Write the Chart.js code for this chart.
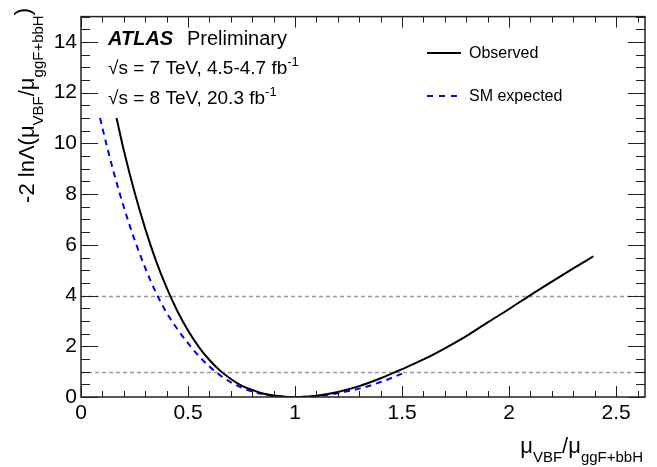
<!DOCTYPE html>
<html>
<head>
<meta charset="utf-8">
<script src="https://cdn.jsdelivr.net/npm/chart.js@4.4.1/dist/chart.umd.min.js"></script>
<style>
  body { margin: 0; background: #fff; }
  canvas { display: block; }
</style>
</head>
<body>
<canvas id="nll" width="657" height="467"></canvas>
<script>
// Values
const obsX = [0.166, 0.2, 0.25, 0.3, 0.35, 0.4, 0.45, 0.5, 0.55, 0.6, 0.65, 0.7, 0.75, 0.8, 0.85, 0.9, 0.95, 1.0,
              1.05, 1.1, 1.2, 1.3, 1.4, 1.5, 1.6, 1.7, 1.8, 1.9, 2.0, 2.1, 2.2, 2.3, 2.394];
const obsY = [11.0, 9.73, 8.08, 6.64, 5.38, 4.31, 3.39, 2.62, 1.98, 1.46, 1.04, 0.71, 0.45, 0.28, 0.14, 0.056, 0.013, 0.0,
              0.013, 0.05, 0.2, 0.43, 0.74, 1.1, 1.48, 1.92, 2.4, 2.94, 3.47, 4.02, 4.55, 5.07, 5.55];

const expX = [0.089, 0.1, 0.15, 0.2, 0.25, 0.3, 0.35, 0.4, 0.45, 0.5, 0.55, 0.6, 0.65, 0.7, 0.75, 0.8, 0.85, 0.9, 0.95, 1.0,
              1.05, 1.1, 1.2, 1.3, 1.4, 1.5];
const expY = [11.0, 10.61, 8.95, 7.49, 6.21, 5.09, 4.12, 3.32, 2.68, 2.12, 1.62, 1.2, 0.86, 0.58, 0.37, 0.22, 0.11, 0.045, 0.01, 0.0,
              0.01, 0.037, 0.15, 0.33, 0.59, 0.92];

const seriesNames = ['Observed', 'SM expected'];
const xTickValues = [0, 0.5, 1, 1.5, 2, 2.5];
const yTickValues = [0, 2, 4, 6, 8, 10, 12, 14];
const refLevels = [1, 4];

const FONT = '"Liberation Sans", Arial, Helvetica, sans-serif';
Chart.defaults.font.family = FONT;
Chart.defaults.color = '#000';

const toPoints = (xs, ys) => xs.map((x, i) => ({ x: x, y: ys[i] }));

// draw a run of [text, size, dy] pieces left to right, returns end x
function drawPieces(ctx, pieces, x, y) {
    pieces.forEach(p => {
        ctx.font = (p[3] || '') + p[1] + 'px ' + FONT;
        ctx.fillText(p[0], x, y + p[2]);
        x += ctx.measureText(p[0]).width;
    });
    return x;
}
function piecesWidth(ctx, pieces) {
    let w = 0;
    pieces.forEach(p => {
        ctx.font = (p[3] || '') + p[1] + 'px ' + FONT;
        w += ctx.measureText(p[0]).width;
    });
    return w;
}

const atlasDecor = {
    id: 'atlasDecor',
    beforeDatasetsDraw(chart) {
        const { ctx, chartArea: a, scales } = chart;
        ctx.save();
        ctx.strokeStyle = '#9a9a9a';
        ctx.lineWidth = 1.5;
        ctx.setLineDash([4, 3]);
        refLevels.forEach(v => {
            const py = Math.round(scales.y.getPixelForValue(v)) + 0.5;
            ctx.beginPath();
            ctx.moveTo(a.left, py);
            ctx.lineTo(a.right, py);
            ctx.stroke();
        });
        ctx.restore();
    },
    afterDraw(chart) {
        const { ctx, chartArea: a, scales } = chart;
        const sx = scales.x, sy = scales.y;
        ctx.save();

        // frame
        ctx.strokeStyle = '#222';
        ctx.lineWidth = 1.5;
        ctx.strokeRect(a.left, a.top, a.right - a.left, a.bottom - a.top);

        // ticks on all four sides
        ctx.lineWidth = 1;
        ctx.beginPath();
        for (let i = 0; i <= 26; i++) {
            const v = i / 10;
            const px = Math.round(sx.getPixelForValue(v)) + 0.5;
            const len = (i % 5 === 0) ? 11 : 6;
            ctx.moveTo(px, a.bottom); ctx.lineTo(px, a.bottom - len);
            ctx.moveTo(px, a.top); ctx.lineTo(px, a.top + len);
        }
        for (let i = 0; i <= 30; i++) {
            const v = i / 2;
            const py = Math.round(sy.getPixelForValue(v)) + 0.5;
            const len = (i % 4 === 0) ? 17 : 9;
            ctx.moveTo(a.left, py); ctx.lineTo(a.left + len, py);
            ctx.moveTo(a.right, py); ctx.lineTo(a.right - len, py);
        }
        ctx.stroke();

        // ATLAS label
        ctx.fillStyle = '#000';
        ctx.textBaseline = 'alphabetic';
        ctx.textAlign = 'left';
        ctx.font = 'italic bold 20px ' + FONT;
        ctx.fillText('ATLAS', 108, 45);
        ctx.font = '20px ' + FONT;
        ctx.fillText('Preliminary', 187, 45);

        drawPieces(ctx, [['\u221As = 7 TeV, 4.5-4.7 fb', 19, 0], ['-1', 13, -8]], 108, 74);
        drawPieces(ctx, [['\u221As = 8 TeV, 20.3 fb', 19, 0], ['-1', 13, -8]], 108, 104);

        // legend
        ctx.lineWidth = 2;
        ctx.strokeStyle = '#000';
        ctx.setLineDash([]);
        ctx.beginPath(); ctx.moveTo(427, 53); ctx.lineTo(461, 53); ctx.stroke();
        ctx.strokeStyle = '#0000ff';
        ctx.setLineDash([6, 6]);
        ctx.beginPath(); ctx.moveTo(427, 96); ctx.lineTo(461, 96); ctx.stroke();
        ctx.setLineDash([]);
        ctx.font = '16px ' + FONT;
        ctx.fillText(seriesNames[0], 469, 58);
        ctx.fillText(seriesNames[1], 469, 101);

        // x title, right aligned to frame
        const xt = [['\u03BC', 22, 0], ['VBF', 15, 9], ['/\u03BC', 22, 0], ['ggF+bbH', 15, 9]];
        drawPieces(ctx, xt, a.right - 2 - piecesWidth(ctx, xt), 453);

        // y title, rotated, right aligned to frame top
        const yt = [['-2 ln\u039B(\u03BC', 22, 0], ['VBF', 15, 9], ['/\u03BC', 22, 0], ['ggF+bbH', 15, 9], [')', 22, -4]];
        ctx.translate(34, 8);
        ctx.rotate(-Math.PI / 2);
        drawPieces(ctx, yt, -piecesWidth(ctx, yt), 0);

        ctx.restore();
    }
};

new Chart(document.getElementById('nll'), {
    type: 'line',
    data: {
        datasets: [{
            label: seriesNames[0],
            data: toPoints(obsX, obsY),
            borderColor: '#000',
            borderWidth: 2,
            pointRadius: 0,
            cubicInterpolationMode: 'monotone',
            fill: false
        }, {
            label: seriesNames[1],
            data: toPoints(expX, expY),
            borderColor: '#0000ff',
            borderWidth: 2,
            borderDash: [6, 5],
            pointRadius: 0,
            cubicInterpolationMode: 'monotone',
            fill: false
        }]
    },
    options: {
        responsive: false,
        animation: false,
        layout: { padding: { top: 13, right: 12, left: 0, bottom: 0 } },
        plugins: {
            legend: { display: false },
            tooltip: { enabled: false }
        },
        scales: {
            x: {
                type: 'linear',
                min: 0,
                max: 2.635,
                grid: { display: false, drawTicks: false },
                border: { display: false },
                afterBuildTicks: s => { s.ticks = xTickValues.map(v => ({ value: v })); },
                afterFit: s => { s.height = 70; },
                ticks: {
                    padding: 4,
                    maxRotation: 0,
                    font: { size: 21 },
                    color: '#000',
                    callback: v => String(v)
                }
            },
            y: {
                type: 'linear',
                min: 0,
                max: 15,
                grid: { display: false, drawTicks: false },
                border: { display: false },
                afterBuildTicks: s => { s.ticks = yTickValues.map(v => ({ value: v })); },
                afterFit: s => { s.width = 81; },
                ticks: {
                    padding: 4,
                    font: { size: 21 },
                    color: '#000',
                    callback: v => String(v)
                }
            }
        }
    },
    plugins: [atlasDecor]
});
</script>
</body>
</html>
